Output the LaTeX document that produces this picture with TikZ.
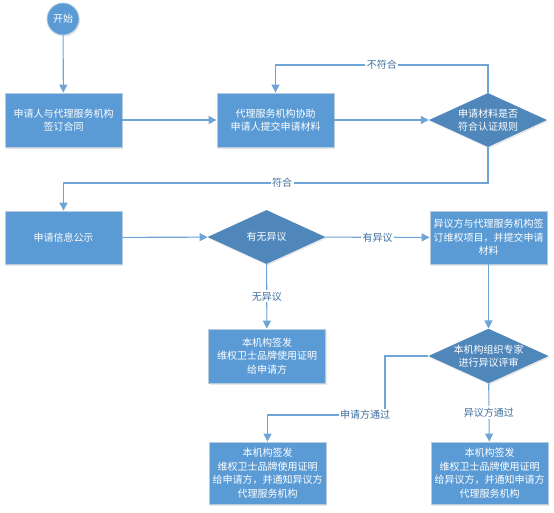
\documentclass[tikz,border=0pt]{standalone}
\usepackage{fontspec}
\setmainfont{Noto Sans CJK SC}
\usetikzlibrary{shapes.geometric,arrows.meta,shadows}
\definecolor{boxblue}{HTML}{5B9BD5}
\definecolor{diablue}{HTML}{4F87BB}
\definecolor{edgegray}{HTML}{B8CCE0}
\definecolor{linec}{HTML}{6FA4D8}
\definecolor{lblc}{HTML}{3F6E9E}
\begin{document}
\begin{tikzpicture}[x=1pt,y=-1pt,
  every node/.style={font=\fontsize{10}{13.5}\selectfont},
  pbox/.style={rectangle, fill=boxblue, draw=edgegray, line width=0.8pt, text=white, align=center,
     minimum width=117pt, minimum height=54pt, inner sep=1.5pt,
     drop shadow={shadow xshift=1pt, shadow yshift=-1.5pt, opacity=0.18}},
  pdia/.style={diamond, aspect=2.2, fill=diablue, text=white, align=center, inner sep=0pt,
     minimum width=118pt, minimum height=54pt,
     drop shadow={shadow xshift=1pt, shadow yshift=-1.5pt, opacity=0.18}},
  pcirc/.style={circle, fill=boxblue, draw=edgegray, line width=0.8pt, text=white, minimum size=32pt, inner sep=0pt,
     drop shadow={shadow xshift=1pt, shadow yshift=-1.5pt, opacity=0.18}},
  arr/.style={draw=linec, line width=1.1pt, -{Triangle[width=8pt,length=8pt]}},
  lbl/.style={fill=white, text=lblc, inner sep=1.5pt}
]
\useasboundingbox (0,0) rectangle (554,512);

\node[pcirc] (start) at (63,19) {开始};
\node[pbox] (b1) at (63.5,120) {申请人与代理服务机构\\签订合同};
\node[pbox] (b2) at (275.5,120) {代理服务机构协助\\申请人提交申请材料};
\node[pdia] (d1) at (488,120) {申请材料是否\\符合认证规则};
\node[pbox, minimum height=53pt] (b3) at (63.5,237.5) {申请信息公示};
\node[pdia] (d2) at (266.5,237) {有无异议};
\node[pbox, minimum height=53pt] (b4) at (488.5,237.5) {异议方与代理服务机构签\\订维权项目，并提交申请\\材料};
\node[pbox] (b5) at (267,356) {本机构签发\\维权卫士品牌使用证明\\给申请方};
\node[pdia] (d3) at (488.5,356) {本机构组织专家\\进行异议评审};
\node[pbox, minimum height=62pt] (b6) at (267.5,473) {本机构签发\\维权卫士品牌使用证明\\给申请方，并通知异议方\\代理服务机构};
\node[pbox, minimum height=62pt] (b7) at (489.5,473) {本机构签发\\维权卫士品牌使用证明\\给异议方，并通知申请方\\代理服务机构};

\coordinate (c1) at (488,65);
\coordinate (c2) at (488,183);
\coordinate (c3) at (385,415);

\draw[arr] (start) -- (b1);
\draw[arr] (b1) -- (b2);
\draw[arr] (b2) -- (d1);
\draw[arr] (d1.north) -- (d1.north |- c1) -- node[lbl]{不符合} (b2.north |- c1) -- (b2.north);
\draw[arr] (d1.south) -- (c2) -- node[lbl,pos=0.485]{符合} (b3.north |- c2) -- (b3.north);
\draw[arr] (b3) -- (d2);
\draw[arr] (d2) -- node[lbl]{有异议} (b4);
\draw[arr] (d2) -- node[lbl]{无异议} (b5);
\draw[arr] (b4) -- (d3);
\draw[arr] (d3.west) -- (c3 |- d3.west) -- (c3) -- node[lbl,pos=0.17]{申请方通过} (b6.north |- c3) -- (b6.north);
\draw[arr] (d3) -- node[lbl]{异议方通过} (b7);
\end{tikzpicture}
\end{document}
